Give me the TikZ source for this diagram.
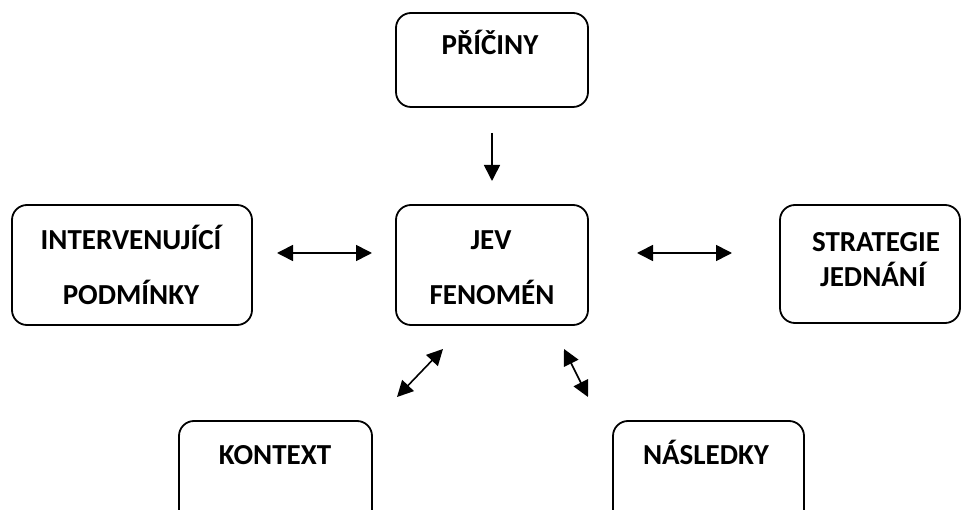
\documentclass[tikz,border=0pt]{standalone}
\usepackage{fontspec}
\setmainfont{Carlito}
\usetikzlibrary{arrows.meta}
\begin{document}
\begin{tikzpicture}[x=1pt,y=-1pt,
  box/.style={draw, line width=1.8pt, rounded corners=15pt, inner sep=0pt},
  lbl/.style={anchor=base, inner sep=0pt, font=\fontsize{29}{33}\selectfont\bfseries},
  link/.style={line width=1.6pt, {Triangle[length=16pt,width=16pt]}-{Triangle[length=16pt,width=16pt]}},
  onelink/.style={line width=1.6pt, -{Triangle[length=16pt,width=16pt]}}]
\useasboundingbox (0,0) rectangle (962,510);
\clip (0,0) rectangle (962,510);

% boxes
\node[box, minimum width=192pt, minimum height=94pt]  (pric) at (492,60)  {};
\node[box, minimum width=240pt, minimum height=120pt] (intv) at (132,265) {};
\node[box, minimum width=192pt, minimum height=120pt] (jev)  at (492,265) {};
\node[box, minimum width=180pt, minimum height=118pt] (strat) at (870,264) {};
\node[box, minimum width=193pt, minimum height=110pt] (kont) at (275.5,476) {};
\node[box, minimum width=191pt, minimum height=110pt] (nasl) at (708.5,476) {};

% labels
\node[lbl] (tpric)  at (490,55)  {PŘÍČINY};
\node[lbl] (tintv1) at (131,250) {INTERVENUJÍCÍ};
\node[lbl] (tintv2) at (131,305) {PODMÍNKY};
\node[lbl] (tjev1)  at (491,250) {JEV};
\node[lbl] (tjev2)  at (492,305) {FENOMÉN};
\node[lbl] (tstr1)  at (876,252) {STRATEGIE};
\node[lbl] (tstr2)  at (873,287) {JEDNÁNÍ};
\node[lbl] (tkont)  at (275,465) {KONTEXT};
\node[lbl] (tnasl)  at (706,465) {NÁSLEDKY};

% free arrow ends
\coordinate (d1) at (492,133);  \coordinate (d2) at (492,181);
\coordinate (l1) at (277,253);  \coordinate (l2) at (372,253);
\coordinate (r1) at (637,253);  \coordinate (r2) at (732,253);
\coordinate (k1) at (397,397);  \coordinate (k2) at (443,349);
\coordinate (n1) at (564,349);  \coordinate (n2) at (588,397);

% arrows
\draw[onelink] (d1) -- (d2);
\draw[link] (l1) -- (l2);
\draw[link] (r1) -- (r2);
\draw[link] (k1) -- (k2);
\draw[link] (n1) -- (n2);
\end{tikzpicture}
\end{document}
